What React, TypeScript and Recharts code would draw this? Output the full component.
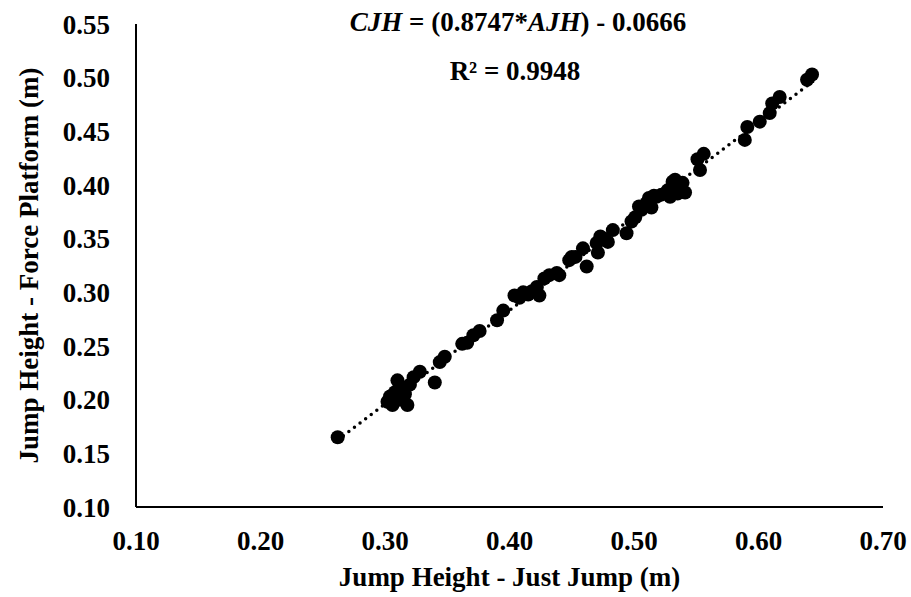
import React from "react";
import {
  ScatterChart,
  Scatter,
  XAxis,
  YAxis,
  ReferenceLine,
} from "recharts";

// Just Jump (AJH) vs force platform (CJH) jump heights, metres
const justJump = [
  0.262, 0.302, 0.304, 0.306, 0.308, 0.31, 0.312, 0.314, 0.316, 0.318,
  0.32, 0.323, 0.328, 0.34, 0.344, 0.348, 0.362, 0.366, 0.371, 0.376,
  0.39, 0.395, 0.404, 0.408, 0.411, 0.415, 0.418, 0.422, 0.424, 0.428,
  0.432, 0.438, 0.44, 0.448, 0.45, 0.453, 0.459, 0.462, 0.47, 0.471,
  0.473, 0.476, 0.479, 0.483, 0.494, 0.498, 0.501, 0.504, 0.506, 0.51,
  0.512, 0.514, 0.516, 0.518, 0.522, 0.527, 0.529, 0.531, 0.533, 0.535,
  0.537, 0.539, 0.541, 0.551, 0.553, 0.556, 0.589, 0.591, 0.601, 0.609,
  0.611, 0.617, 0.639, 0.643,
];
const forcePlatform = [
  0.165, 0.198, 0.203, 0.195, 0.207, 0.218, 0.2, 0.211, 0.205, 0.195,
  0.214, 0.221, 0.226, 0.216, 0.235, 0.24, 0.252, 0.253, 0.26, 0.264,
  0.274, 0.283, 0.297, 0.295, 0.3, 0.298, 0.301, 0.305, 0.297, 0.313,
  0.316, 0.318, 0.316, 0.33, 0.333, 0.333, 0.341, 0.324, 0.346, 0.337,
  0.352, 0.35, 0.347, 0.358, 0.355, 0.366, 0.37, 0.38, 0.377, 0.383,
  0.388, 0.379, 0.39, 0.389, 0.391, 0.395, 0.389, 0.403, 0.405, 0.392,
  0.398, 0.402, 0.393, 0.424, 0.414, 0.429, 0.442, 0.454, 0.459, 0.467,
  0.476, 0.482, 0.498, 0.503,
];

const xTicks = [0.1, 0.2, 0.3, 0.4, 0.5, 0.6, 0.7];
const yTicks = [0.1, 0.15, 0.2, 0.25, 0.3, 0.35, 0.4, 0.45, 0.5, 0.55];

// linear trendline from the equation printed on the chart
const slope = 0.8747;
const intercept = -0.0666;
const trendRange = [0.262, 0.645];

const font = "'Liberation Serif', 'Times New Roman', serif";
const fs = 27;

const data = justJump.map((x, i) => ({ x, y: forcePlatform[i] }));
const trend = trendRange.map((x) => ({ x, y: slope * x + intercept }));

const Dot = (props: any) => (
  <circle cx={props.cx} cy={props.cy} r={7} fill="#000" />
);

const tickStyle = { fontSize: fs, fontWeight: 700, fill: "#000", fontFamily: font };

export default function App() {
  return (
    <div>
      <style>{"body{margin:0}"}</style>
      <ScatterChart
        width={911}
        height={597}
        margin={{ top: 24, right: 28, bottom: 0, left: 0 }}
        style={{ fontFamily: font }}
      >
        <XAxis
          type="number"
          dataKey="x"
          domain={[0.1, 0.7]}
          ticks={xTicks}
          tickFormatter={(v: number) => v.toFixed(2)}
          height={90}
          tick={tickStyle}
          tickLine={false}
          tickSize={0}
          tickMargin={24}
          axisLine={{ stroke: "#000", strokeWidth: 2 }}
          allowDataOverflow
          label={{
            value: "Jump Height - Just Jump (m)",
            position: "insideBottom",
            offset: 11,
            style: { fontSize: fs, fontWeight: 700, fill: "#000", fontFamily: font },
          }}
        />
        <YAxis
          type="number"
          dataKey="y"
          domain={[0.1, 0.55]}
          ticks={yTicks}
          tickFormatter={(v: number) => v.toFixed(2)}
          width={136}
          tick={tickStyle}
          tickLine={false}
          tickSize={0}
          tickMargin={26}
          axisLine={{ stroke: "#000", strokeWidth: 2 }}
          allowDataOverflow
          label={{
            content: (p: any) => {
              const vb = p.viewBox;
              const cx = 38;
              const cy = vb.y + vb.height / 2;
              return (
                <text
                  x={cx}
                  y={cy}
                  transform={`rotate(-90, ${cx}, ${cy})`}
                  textAnchor="middle"
                  fontSize={fs}
                  fontWeight={700}
                  fontFamily={font}
                  fill="#000"
                >
                  Jump Height - Force Platform (m)
                </text>
              );
            },
          }}
        />
        <ReferenceLine
          segment={trend}
          stroke="#000"
          strokeWidth={3.5}
          strokeDasharray="0 7"
          strokeLinecap="round"
        />
        <Scatter data={data} shape={Dot} isAnimationActive={false} />
        <text
          x={518}
          y={31}
          textAnchor="middle"
          fontSize={fs}
          fontWeight={700}
          fontFamily={font}
          fill="#000"
        >
          <tspan fontStyle="italic">CJH</tspan>
          <tspan> = (0.8747*</tspan>
          <tspan fontStyle="italic">AJH</tspan>
          <tspan>) - 0.0666</tspan>
        </text>
        <text
          x={515}
          y={80}
          textAnchor="middle"
          fontSize={fs}
          fontWeight={700}
          fontFamily={font}
          fill="#000"
        >
          R² = 0.9948
        </text>
      </ScatterChart>
    </div>
  );
}
